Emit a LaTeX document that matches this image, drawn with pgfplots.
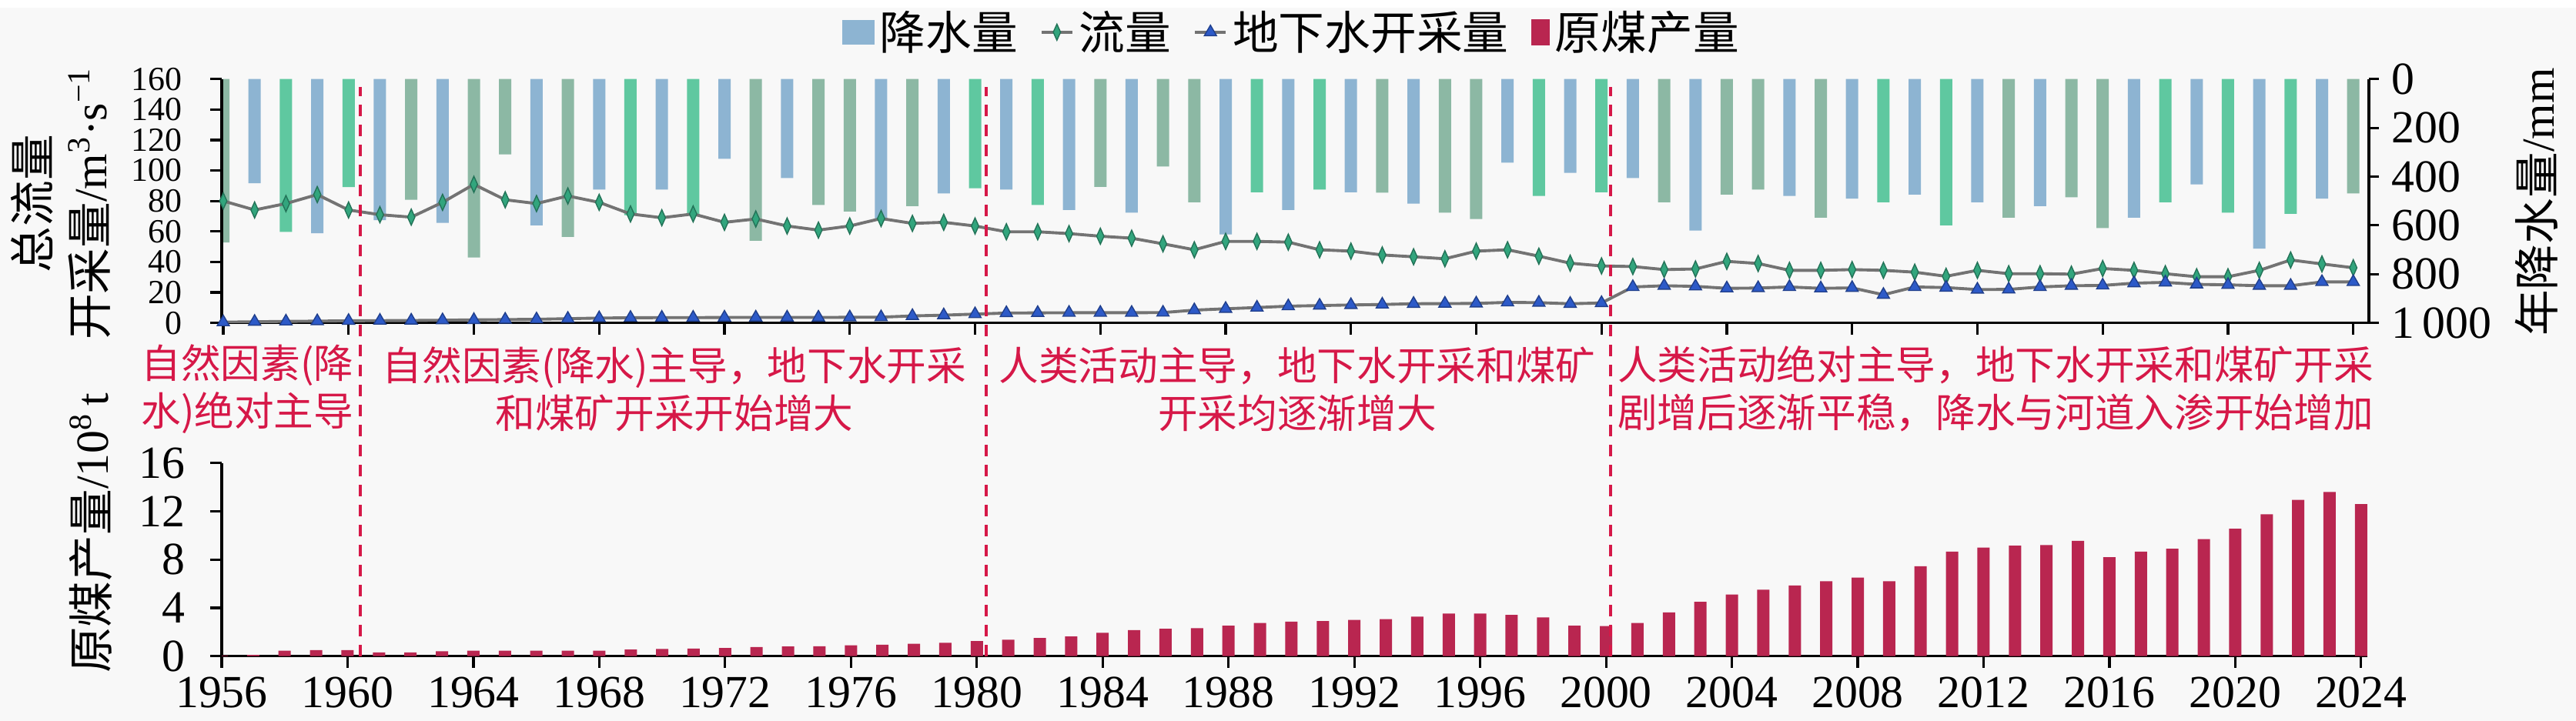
\documentclass[border=0pt]{standalone}
\usepackage{fontspec}
\setmainfont{Liberation Serif}
\newfontfamily\cjk{Noto Sans CJK SC}
\usepackage{pgfplots}
\pgfplotsset{compat=1.18}
\definecolor{pB}{RGB}{141,180,210}
\definecolor{pG}{RGB}{95,200,160}
\definecolor{pT}{RGB}{140,184,164}
\definecolor{coal}{RGB}{185,38,80}
\definecolor{anno}{RGB}{214,24,72}
\definecolor{lgray}{RGB}{115,115,115}
\definecolor{fgreen}{RGB}{50,165,125}
\definecolor{gwblue}{RGB}{45,90,200}
\definecolor{bg}{RGB}{248,248,248}
\newcommand{\fsL}{\fontsize{17}{21}\selectfont}
\newcommand{\fsT}{\fontsize{12.5}{13}\selectfont}
\newcommand{\fsA}{\fontsize{14.7}{17.6}\selectfont}
\pgfplotsset{
  barlegend/.style={legend image code/.code={\fill[##1, draw=none] (0mm,-1.6mm) rectangle (4.2mm,1.6mm);}},
  coallegend/.style={legend image code/.code={\fill[##1, draw=none] (0mm,-1.7mm) rectangle (2.4mm,1.7mm);}},
  linelegend/.style={legend image code/.code={\draw[mark repeat=2,mark phase=2,##1] plot coordinates {(0mm,0mm) (2mm,0mm) (4mm,0mm)};}},
}
\begin{document}
\begin{tikzpicture}
\fill[bg] (0,0) rectangle (334.6mm,92.7mm);
% precipitation (right axis, reversed)
\begin{axis}[
  at={(28.8mm,51.7mm)}, anchor=south west,
  scale only axis, width=278.9mm, height=31.7mm,
  xmin=1955.95, xmax=2024.5,
  ymin=0, ymax=1000, y dir=reverse,
  axis x line=none, axis y line*=right,
  axis line style={-, line width=1pt},
  ytick={0,200,400,600,800,1000},
  tick align=outside, major tick length=1.3mm,
  tick style={black, line width=0.9pt},
  yticklabel style={font=\fsL, xshift=0.4mm},
  /pgf/number format/assume math mode=true,
  /pgf/number format/1000 sep={\,},
]
\addplot[ybar, bar width=1.6mm, bar shift=0pt, fill=pB, draw=none] coordinates {
(1957,427) (1959,632) (1961,579) (1963,590) (1966,600) (1968,453) (1970,453) (1972,327)
(1974,406) (1977,575) (1979,469) (1981,453) (1983,537) (1985,548) (1988,637) (1990,537)
(1992,464) (1994,511) (1997,343) (1999,385) (2001,406) (2003,621) (2006,479) (2008,490)
(2010,474) (2012,505) (2014,521) (2017,568) (2019,432) (2021,695) (2023,490)};
\addplot[ybar, bar width=1.6mm, bar shift=0pt, fill=pG, draw=none] coordinates {
(1958,627) (1960,443) (1969,558) (1971,558) (1980,448) (1982,516) (1989,464) (1991,453)
(1998,479) (2000,464) (2009,505) (2011,600) (2018,505) (2020,548) (2022,553)};
\addplot[ybar, bar width=1.6mm, bar shift=0pt, fill=pT, draw=none] coordinates {
(1956,670) (1962,495) (1964,732) (1965,309) (1967,647) (1973,663) (1975,516) (1976,543)
(1978,521) (1984,442) (1986,359) (1987,505) (1993,466) (1995,548) (1996,574) (2002,505)
(2004,474) (2005,453) (2007,568) (2013,568) (2015,485) (2016,611) (2024,469)};
\end{axis}
% flow and groundwater (left axis)
\begin{axis}[
  at={(28.8mm,51.7mm)}, anchor=south west,
  scale only axis, width=278.9mm, height=31.7mm,
  xmin=1955.95, xmax=2024.5, ymin=0, ymax=160,
  axis x line*=bottom, axis y line*=left,
  axis line style={-, line width=1pt},
  xtick={1956,1960,...,2024}, xticklabels={},
  ytick={0,20,...,160},
  tick align=outside, major tick length=1.5mm,
  tick style={black, line width=0.9pt},
  yticklabel style={font=\fsT, xshift=-2.4mm, inner ysep=0pt},
  /pgf/number format/assume math mode=true,
  legend columns=4,
  legend style={at={(0.499,1.192)}, anchor=center, draw=none, fill=none,
    font=\fsL\cjk, /tikz/every even column/.append style={column sep=2.2mm}},
]
\addlegendimage{barlegend, fill=pB}
\addlegendentry{降水量}
\addplot[draw=lgray, line width=1.1pt, mark=diamond*, mark size=3pt,
  mark options={solid, fill=fgreen, draw=fgreen!70!black, line width=0.4pt, xscale=0.6}, linelegend] coordinates {
(1956,80.0) (1957,74.1) (1958,78.3) (1959,84.2) (1960,74.1) (1961,71.0) (1962,69.4) (1963,79.1)
(1964,90.9) (1965,80.8) (1966,78.3) (1967,83.3) (1968,79.1) (1969,71.5) (1970,69.0) (1971,71.5)
(1972,66.0) (1973,68.2) (1974,63.6) (1975,60.9) (1976,63.6) (1977,68.5) (1978,65.3) (1979,66.0)
(1980,63.6) (1981,59.8) (1982,59.8) (1983,58.6) (1984,56.9) (1985,55.6) (1986,51.9) (1987,48.0)
(1988,53.5) (1989,53.5) (1990,53.0) (1991,48.0) (1992,47.1) (1993,44.6) (1994,43.4) (1995,42.1)
(1996,47.1) (1997,48.0) (1998,43.8) (1999,39.2) (2000,37.4) (2001,37.0) (2002,35.0) (2003,35.4)
(2004,40.4) (2005,39.0) (2006,34.5) (2007,34.5) (2008,35.0) (2009,34.5) (2010,33.3) (2011,30.6)
(2012,34.5) (2013,32.3) (2014,32.3) (2015,32.0) (2016,35.7) (2017,34.5) (2018,32.3) (2019,30.3)
(2020,30.3) (2021,34.5) (2022,41.3) (2023,38.7) (2024,36.2)};
\addlegendentry{流量}
\addplot[draw=lgray, line width=1.1pt, mark=triangle*, mark size=2.6pt,
  mark options={solid, fill=gwblue, draw=gwblue!70!black, line width=0.4pt}, linelegend] coordinates {
(1956,0.5) (1957,0.8) (1958,1.0) (1959,1.2) (1960,1.4) (1961,1.5) (1962,1.6) (1963,1.8)
(1964,2.0) (1965,2.2) (1966,2.4) (1967,2.8) (1968,3.2) (1969,3.4) (1970,3.5) (1971,3.5)
(1972,3.6) (1973,3.6) (1974,3.6) (1975,3.6) (1976,3.7) (1977,3.8) (1978,4.6) (1979,5.1)
(1980,5.8) (1981,6.5) (1982,6.6) (1983,6.7) (1984,6.7) (1985,6.7) (1986,6.8) (1987,8.4)
(1988,9.3) (1989,10.1) (1990,11.0) (1991,11.4) (1992,11.8) (1993,12.1) (1994,12.6) (1995,12.7)
(1996,12.8) (1997,13.5) (1998,13.3) (1999,12.6) (2000,13.1) (2001,23.6) (2002,24.4) (2003,24.0)
(2004,22.7) (2005,22.9) (2006,23.6) (2007,22.7) (2008,23.0) (2009,18.5) (2010,23.6) (2011,23.2)
(2012,21.9) (2013,22.0) (2014,23.6) (2015,24.4) (2016,24.6) (2017,26.1) (2018,26.6) (2019,25.3)
(2020,25.0) (2021,24.4) (2022,24.4) (2023,26.9) (2024,26.9)};
\addlegendentry{地下水开采量}
\addlegendimage{coallegend, fill=coal}
\addlegendentry{原煤产量}
\end{axis}
% coal production
\begin{axis}[
  at={(28.8mm,8.4mm)}, anchor=south west,
  scale only axis, width=278.7mm, height=25.1mm,
  xmin=1956, xmax=2024.2, ymin=0, ymax=16,
  axis x line*=bottom, axis y line*=left,
  axis line style={-, line width=1pt},
  xtick={1956,1960,...,2024}, ytick={0,4,...,16},
  tick align=outside, major tick length=1.5mm,
  tick style={black, line width=0.9pt},
  ticklabel style={font=\fsL},
  xticklabel style={/pgf/number format/1000 sep={}},
  yticklabel style={xshift=-2.0mm},
  /pgf/number format/assume math mode=true,
]
\addplot[ybar, bar width=1.6mm, bar shift=0pt, fill=coal, draw=none] coordinates {
(1956,0.05) (1957,0.1) (1958,0.45) (1959,0.5) (1960,0.5) (1961,0.3) (1962,0.3) (1963,0.4)
(1964,0.45) (1965,0.45) (1966,0.45) (1967,0.45) (1968,0.45) (1969,0.55) (1970,0.6) (1971,0.62)
(1972,0.68) (1973,0.75) (1974,0.8) (1975,0.82) (1976,0.9) (1977,0.95) (1978,1.02) (1979,1.1)
(1980,1.25) (1981,1.36) (1982,1.5) (1983,1.63) (1984,1.93) (1985,2.15) (1986,2.27) (1987,2.32)
(1988,2.53) (1989,2.74) (1990,2.85) (1991,2.91) (1992,3.0) (1993,3.06) (1994,3.27) (1995,3.53)
(1996,3.53) (1997,3.42) (1998,3.21) (1999,2.53) (2000,2.49) (2001,2.74) (2002,3.63) (2003,4.5)
(2004,5.1) (2005,5.5) (2006,5.85) (2007,6.2) (2008,6.5) (2009,6.2) (2010,7.45) (2011,8.65)
(2012,9.0) (2013,9.15) (2014,9.2) (2015,9.55) (2016,8.2) (2017,8.65) (2018,8.9) (2019,9.7)
(2020,10.55) (2021,11.75) (2022,12.95) (2023,13.6) (2024,12.6)};
\end{axis}
% phase separators
\foreach \xx in {46.8,128.1,209.2}{
  \draw[anno, line width=1pt, dash pattern=on 1.5mm off 1.1mm] (\xx mm,8.4mm) -- (\xx mm,82.4mm);
}
% phase annotations
\node[anno, font=\fsA\cjk, align=right, anchor=east, inner sep=0pt] at (46.0mm,43.1mm) {自然因素(降\\水)绝对主导};
\node[anno, font=\fsA\cjk, align=center, inner sep=0pt] at (87.6mm,43.1mm) {自然因素(降水)主导，地下水开采\\和煤矿开采开始增大};
\node[anno, font=\fsA\cjk, align=center, inner sep=0pt] at (168.5mm,43.1mm) {人类活动主导，地下水开采和煤矿\\开采均逐渐增大};
\node[anno, font=\fsA\cjk, align=center, inner sep=0pt] at (259.2mm,43.1mm) {人类活动绝对主导，地下水开采和煤矿开采\\剧增后逐渐平稳，降水与河道入渗开始增加};
% axis titles
\node[rotate=90, font=\fsL, inner sep=0pt] at (4.2mm,67.2mm) {{\cjk 总流量}};
\node[rotate=90, font=\fsL, inner sep=0pt] at (11.6mm,67.2mm) {{\cjk 开采量}/m\textsuperscript{3}·s\textsuperscript{−1}};
\node[rotate=90, font=\fsL, inner sep=0pt] at (11.8mm,24.4mm) {{\cjk 原煤产量}/10\textsuperscript{8}\,t};
\node[rotate=90, font=\fsL, inner sep=0pt] at (329.5mm,67.4mm) {{\cjk 年降水量}/mm};
\end{tikzpicture}
\end{document}
